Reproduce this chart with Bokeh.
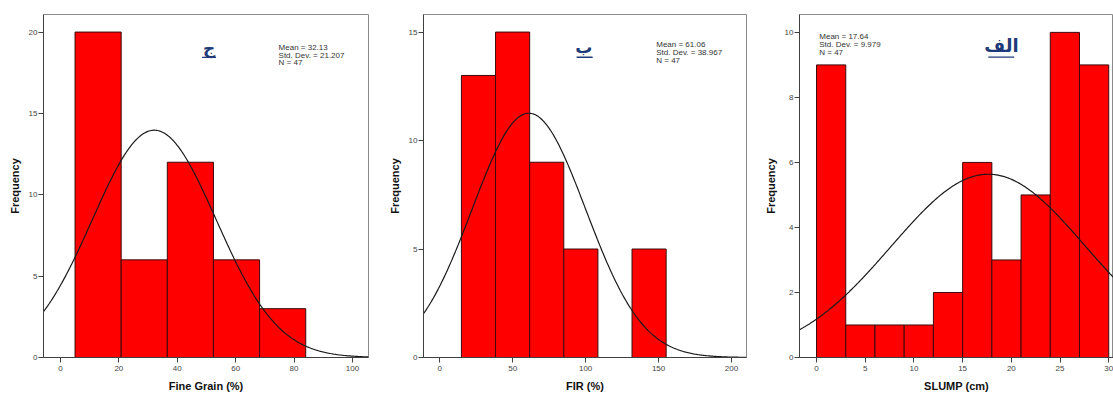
import numpy as np
from bokeh.plotting import figure
from bokeh.layouts import row
from bokeh.models import Label, FixedTicker, ColumnDataSource
from bokeh.embed import file_html
from bokeh.resources import INLINE

# ---------------- data ----------------
fine_edges = [5.0, 20.8, 36.6, 52.4, 68.2, 84.0]
fine_counts = [20, 6, 12, 6, 3]
fine_mean, fine_sd, fine_n = 32.13, 21.207, 47

fir_edges = [14.8, 38.2, 61.6, 85.0, 108.4, 131.8, 155.2]
fir_counts = [13, 15, 9, 5, 0, 5]
fir_mean, fir_sd, fir_n = 61.06, 38.967, 47

slump_edges = [0, 3, 6, 9, 12, 15, 18, 21, 24, 27, 30]
slump_counts = [9, 1, 1, 1, 2, 6, 3, 5, 10, 9]
slump_mean, slump_sd, slump_n = 17.64, 9.979, 47

fine_xticks = [0, 20, 40, 60, 80, 100]
fine_yticks = [0, 5, 10, 15, 20]
fir_xticks = [0, 50, 100, 150, 200]
fir_yticks = [0, 5, 10, 15]
slump_xticks = [0, 5, 10, 15, 20, 25, 30]
slump_yticks = [0, 2, 4, 6, 8, 10]

FONT = "Liberation Sans"
ARFONT = "DejaVu Sans"
NAVY = "#1f3a78"


def panel(edges, counts, mean, sd, n, xr, yr, xticks, yticks, xlabel,
          width, bl, br, stats_xy, ar_text, ar_xy, ar_line, ar_size):
    p = figure(width=width, height=394, x_range=xr, y_range=yr,
               output_backend="svg", toolbar_location=None,
               min_border_left=bl, min_border_right=br,
               min_border_top=14, min_border_bottom=35)
    p.grid.visible = False
    p.outline_line_color = "#8a8a8a"
    p.outline_line_width = 1
    p.background_fill_color = "white"
    p.border_fill_color = "white"

    src = ColumnDataSource(dict(left=edges[:-1], right=edges[1:], top=counts,
                                bottom=[0] * len(counts)))
    p.quad(left="left", right="right", top="top", bottom="bottom", source=src,
           fill_color="#ff0000", line_color="#3a0a0a", line_width=1)

    # normal curve overlay (SPSS style) from stated mean / sd
    bw = edges[1] - edges[0]
    xs = np.linspace(xr[0], xr[1], 300)
    ys = n * bw / (sd * np.sqrt(2 * np.pi)) * np.exp(-0.5 * ((xs - mean) / sd) ** 2)
    p.line(xs, ys, line_color="#1a1a1a", line_width=1.2)

    for ax, ticks in ((p.xaxis[0], xticks), (p.yaxis[0], yticks)):
        ax.ticker = FixedTicker(ticks=ticks)
        ax.minor_tick_line_color = None
        ax.major_tick_in = 0
        ax.major_tick_out = 5
        ax.axis_line_color = "#404040"
        ax.major_tick_line_color = "#404040"
        ax.major_label_text_font = FONT
        ax.major_label_text_font_size = "8px"
        ax.major_label_text_color = "#444444"
        ax.axis_label_text_font = FONT
        ax.axis_label_text_font_size = "11px"
        ax.axis_label_text_font_style = "bold"
        ax.axis_label_text_color = "#111111"
    p.xaxis.axis_label = xlabel
    p.yaxis.axis_label = "Frequency"
    p.xaxis.major_label_standoff = 3
    p.xaxis.axis_label_standoff = 6
    p.yaxis.major_label_standoff = 1
    p.yaxis.axis_label_standoff = 5

    sx, sy = stats_xy
    for t, yy in zip([f"Mean = {mean}", f"Std. Dev. = {sd}", f"N = {n}"], sy):
        p.add_layout(Label(x=sx, y=yy, text=t, text_font=FONT, text_font_size="8px",
                           text_color="#333333", text_baseline="middle",
                           text_align="left"))
    p.add_layout(Label(x=ar_xy[0], y=ar_xy[1], text=ar_text, text_font=ARFONT,
                       text_font_size=ar_size, text_font_style="bold",
                       text_color=NAVY, text_align="center", text_baseline="middle"))
    p.segment(x0=[ar_line[0]], x1=[ar_line[1]], y0=[ar_line[2]], y1=[ar_line[2]],
              line_color=NAVY, line_width=1.3)
    return p


p1 = panel(fine_edges, fine_counts, fine_mean, fine_sd, fine_n,
           (-5.8, 105.5), (0, 21.08), fine_xticks, fine_yticks, "Fine Grain (%)",
           385, 43, 17,
           (74.7, [19.08, 18.57, 18.10]), "ج", (50.9, 19.05), (48.5, 53.3, 18.45), "17px")

p2 = panel(fir_edges, fir_counts, fir_mean, fir_sd, fir_n,
           (-11.2, 210.3), (0, 15.81), fir_xticks, fir_yticks, "FIR (%)",
           375, 38, 14,
           (148.4, [14.43, 14.06, 13.69]), "ب", (98.8, 14.33), (93.8, 104.8, 13.84), "17px")

p3 = panel(slump_edges, slump_counts, slump_mean, slump_sd, slump_n,
           (-1.75, 30.49), (0, 10.55), slump_xticks, slump_yticks, "SLUMP (cm)",
           353, 39, 0,
           (0.28, [9.88, 9.62, 9.37]), "الف", (18.98, 9.60), (17.64, 20.3, 9.24), "18px")

layout = row(p1, p2, p3)
open("out.html", "w").write(file_html(layout, INLINE))
